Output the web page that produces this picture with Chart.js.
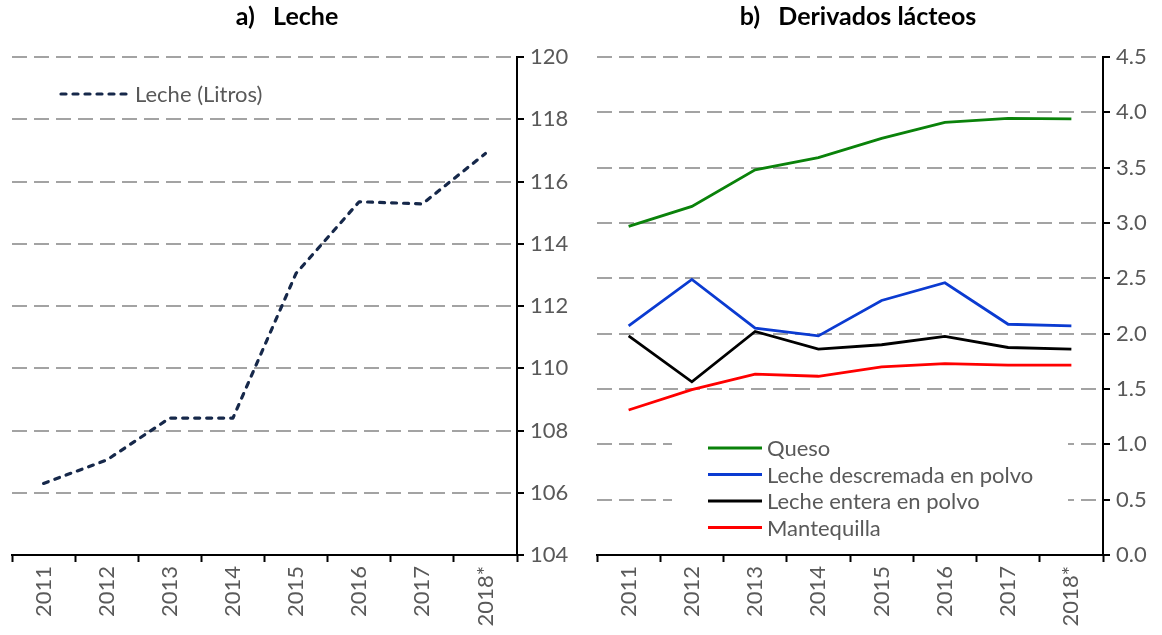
<!DOCTYPE html>
<html>
<head>
<meta charset="utf-8">
<script src="https://cdn.jsdelivr.net/npm/chart.js@4.4.1/dist/chart.umd.min.js"></script>
<style>
  body { margin: 0; background: #fff; }
  #wrap { position: relative; width: 1162px; height: 635px; }
  canvas { position: absolute; top: 0; }
</style>
</head>
<body>
<div id="wrap">
  <canvas class="graph-1" width="581" height="635" style="left:0"></canvas>
  <canvas class="graph-2" width="581" height="635" style="left:581px"></canvas>
</div>
<script>
// data
const years = ['2011', '2012', '2013', '2014', '2015', '2016', '2017', '2018*'];

const leche = [106.3, 107.05, 108.4, 108.4, 113.05, 115.35, 115.28, 116.9];

const queso = [2.97, 3.15, 3.48, 3.59, 3.765, 3.91, 3.945, 3.94];
const lecheDescremada = [2.07, 2.49, 2.05, 1.98, 2.30, 2.46, 2.085, 2.07];
const lecheEntera = [1.98, 1.565, 2.02, 1.86, 1.90, 1.975, 1.875, 1.86];
const mantequilla = [1.31, 1.495, 1.635, 1.615, 1.70, 1.73, 1.715, 1.715];

// axis ranges (tick labels)
const lecheMin = 104, lecheMax = 120, lecheStep = 2;
const derivMin = 0, derivMax = 4.5, derivStep = 0.5;

const GRAY_TEXT = '#595959';
const GRID = '#a3a3a3';
const FONT = 'Lato';

// simple title drawn at a fixed spot
const panelTitle = {
  id: 'panelTitle',
  afterDraw(chart, args, opts) {
    const ctx = chart.ctx;
    ctx.save();
    ctx.font = 'bold 25px ' + FONT;
    ctx.fillStyle = '#000';
    ctx.textAlign = 'center';
    ctx.textBaseline = 'middle';
    ctx.fillText(opts.text, opts.x, opts.y);
    ctx.restore();
  }
};

// legend inside the plot, optionally on a white box
const boxLegend = {
  id: 'boxLegend',
  afterDraw(chart, args, opts) {
    const ctx = chart.ctx;
    ctx.save();
    if (opts.box) {
      ctx.fillStyle = '#fff';
      ctx.fillRect(opts.box[0], opts.box[1], opts.box[2], opts.box[3]);
    }
    chart.data.datasets.forEach((ds, i) => {
      const y = opts.y + i * opts.rowH;
      ctx.beginPath();
      ctx.strokeStyle = ds.borderColor;
      ctx.lineWidth = ds.borderWidth;
      ctx.lineCap = ds.borderCapStyle || 'butt';
      ctx.setLineDash(ds.borderDash || []);
      ctx.moveTo(opts.x, y);
      ctx.lineTo(opts.x + opts.len, y);
      ctx.stroke();
      ctx.setLineDash([]);
      ctx.font = '22px ' + FONT;
      ctx.fillStyle = GRAY_TEXT;
      ctx.textAlign = 'left';
      ctx.textBaseline = 'middle';
      ctx.fillText(ds.label, opts.x + opts.len + 5, y + 1);
    });
    ctx.restore();
  }
};

function xAxis() {
  return {
    type: 'category',
    offset: true,
    grid: { offset: true, drawOnChartArea: false, drawTicks: true, tickLength: 7, tickColor: '#000', tickWidth: 2 },
    border: { color: '#000', width: 2, z: 1 },
    ticks: { color: GRAY_TEXT, font: { family: FONT, size: 22 }, minRotation: 90, maxRotation: 90, padding: 4, autoSkip: false },
    afterFit: s => { s.height = 80; }
  };
}

function yAxis(min, max, step, width, digits) {
  return {
    position: 'right',
    min: min,
    max: max,
    grid: {
      color: c => (c.tick && c.tick.value === min) ? 'rgba(0,0,0,0)' : GRID,
      lineWidth: 2,
      tickColor: '#000',
      tickWidth: 2,
      tickLength: 7,
      drawTicks: true
    },
    border: { color: '#000', width: 2, dash: [15, 7] },
    ticks: {
      stepSize: step,
      color: GRAY_TEXT,
      font: { family: FONT, size: 22 },
      padding: 6,
      callback: v => v.toFixed(digits)
    },
    afterFit: s => { s.width = width; }
  };
}

// 1 - Leche
const graph1 = document.querySelector('.graph-1');
new Chart(graph1, {
  type: 'line',
  data: {
    labels: years,
    datasets: [{
      label: 'Leche (Litros)',
      data: leche,
      borderColor: '#16284a',
      borderWidth: 3.2,
      borderDash: [5, 7],
      borderCapStyle: 'round',
      borderJoinStyle: 'round',
      pointRadius: 0,
      tension: 0
    }]
  },
  options: {
    responsive: false,
    animation: false,
    layout: { padding: { left: 12, top: 57, right: 0, bottom: 0 } },
    scales: {
      x: xAxis(),
      y: yAxis(lecheMin, lecheMax, lecheStep, 64, 0)
    },
    plugins: {
      legend: { display: false },
      tooltip: { enabled: false },
      panelTitle: { text: 'a)   Leche', x: 287, y: 17 },
      boxLegend: { x: 61, y: 94, len: 69, rowH: 26 }
    }
  },
  plugins: [panelTitle, boxLegend]
});

// 2 - Derivados lacteos
const graph2 = document.querySelector('.graph-2');
new Chart(graph2, {
  type: 'line',
  data: {
    labels: years,
    datasets: [
      { label: 'Queso', data: queso, borderColor: '#0a820a', borderWidth: 2.8, pointRadius: 0 },
      { label: 'Leche descremada en polvo', data: lecheDescremada, borderColor: '#0b3bd1', borderWidth: 2.8, pointRadius: 0 },
      { label: 'Leche entera en polvo', data: lecheEntera, borderColor: '#000000', borderWidth: 2.8, pointRadius: 0 },
      { label: 'Mantequilla', data: mantequilla, borderColor: '#ff0000', borderWidth: 2.8, pointRadius: 0 }
    ]
  },
  options: {
    responsive: false,
    animation: false,
    layout: { padding: { left: 16, top: 57, right: 0, bottom: 0 } },
    scales: {
      x: xAxis(),
      y: yAxis(derivMin, derivMax, derivStep, 59, 1)
    },
    plugins: {
      legend: { display: false },
      tooltip: { enabled: false },
      panelTitle: { text: 'b)   Derivados lácteos', x: 277, y: 17 },
      boxLegend: { box: [91, 432, 396, 109], x: 127, y: 448, len: 54, rowH: 26.5 }
    }
  },
  plugins: [panelTitle, boxLegend]
});
</script>
</body>
</html>
